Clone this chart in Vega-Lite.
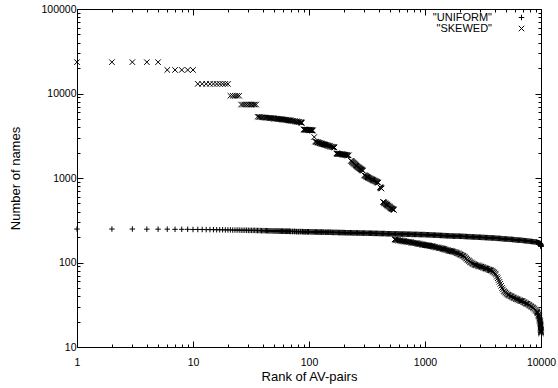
{
  "$schema": "https://vega.github.io/schema/vega-lite/v6.json",
  "width": 464,
  "height": 338,
  "autosize": "none",
  "padding": {"left": 77, "top": 9, "right": 17, "bottom": 41},
  "background": "white",
  "config": {
    "font": "Liberation Sans",
    "view": {"stroke": "black", "strokeWidth": 1},
    "axis": {"grid": false, "domain": false, "tickColor": "black", "labelColor": "black", "titleColor": "black", "labelFontSize": 10.5, "titleFontSize": 13, "titleFontWeight": "normal", "labelOverlap": false, "labelBound": false, "labelFlush": false}
  },
  "data": {"values": [
      {"s":"UNIFORM","r":1,"n":249},{"s":"UNIFORM","r":2,"n":249},{"s":"UNIFORM","r":3,"n":249},{"s":"UNIFORM","r":4,"n":248},{"s":"UNIFORM","r":5,"n":248},{"s":"UNIFORM","r":6,"n":248},{"s":"UNIFORM","r":7,"n":247},{"s":"UNIFORM","r":8,"n":247},{"s":"UNIFORM","r":9,"n":247},{"s":"UNIFORM","r":10,"n":246},
      {"s":"UNIFORM","r":11,"n":246},{"s":"UNIFORM","r":12,"n":246},{"s":"UNIFORM","r":13,"n":245},{"s":"UNIFORM","r":14,"n":245},{"s":"UNIFORM","r":15,"n":245},{"s":"UNIFORM","r":16,"n":244},{"s":"UNIFORM","r":17,"n":244},{"s":"UNIFORM","r":18,"n":244},{"s":"UNIFORM","r":19,"n":243},{"s":"UNIFORM","r":20,"n":243},
      {"s":"UNIFORM","r":21,"n":243},{"s":"UNIFORM","r":22,"n":242},{"s":"UNIFORM","r":23,"n":242},{"s":"UNIFORM","r":24,"n":242},{"s":"UNIFORM","r":25,"n":242},{"s":"UNIFORM","r":26,"n":241},{"s":"UNIFORM","r":27,"n":241},{"s":"UNIFORM","r":28,"n":241},{"s":"UNIFORM","r":29,"n":241},{"s":"UNIFORM","r":30,"n":240},
      {"s":"UNIFORM","r":31,"n":240},{"s":"UNIFORM","r":32,"n":240},{"s":"UNIFORM","r":33,"n":240},{"s":"UNIFORM","r":34,"n":240},{"s":"UNIFORM","r":35,"n":239},{"s":"UNIFORM","r":36,"n":239},{"s":"UNIFORM","r":37,"n":239},{"s":"UNIFORM","r":38,"n":239},{"s":"UNIFORM","r":39,"n":238},{"s":"UNIFORM","r":40,"n":238},
      {"s":"UNIFORM","r":41,"n":238},{"s":"UNIFORM","r":42,"n":238},{"s":"UNIFORM","r":43,"n":238},{"s":"UNIFORM","r":44,"n":237},{"s":"UNIFORM","r":45,"n":237},{"s":"UNIFORM","r":46,"n":237},{"s":"UNIFORM","r":47,"n":237},{"s":"UNIFORM","r":48,"n":237},{"s":"UNIFORM","r":49,"n":236},{"s":"UNIFORM","r":50,"n":236},
      {"s":"UNIFORM","r":51,"n":236},{"s":"UNIFORM","r":52,"n":236},{"s":"UNIFORM","r":53,"n":236},{"s":"UNIFORM","r":54,"n":236},{"s":"UNIFORM","r":55,"n":235},{"s":"UNIFORM","r":56,"n":235},{"s":"UNIFORM","r":57,"n":235},{"s":"UNIFORM","r":58,"n":235},{"s":"UNIFORM","r":59,"n":235},{"s":"UNIFORM","r":60,"n":235},
      {"s":"UNIFORM","r":61,"n":234},{"s":"UNIFORM","r":62,"n":234},{"s":"UNIFORM","r":63,"n":234},{"s":"UNIFORM","r":64,"n":234},{"s":"UNIFORM","r":65,"n":234},{"s":"UNIFORM","r":66,"n":234},{"s":"UNIFORM","r":67,"n":234},{"s":"UNIFORM","r":68,"n":234},{"s":"UNIFORM","r":69,"n":233},{"s":"UNIFORM","r":70,"n":233},
      {"s":"UNIFORM","r":72,"n":233},{"s":"UNIFORM","r":73,"n":233},{"s":"UNIFORM","r":75,"n":233},{"s":"UNIFORM","r":76,"n":233},{"s":"UNIFORM","r":78,"n":232},{"s":"UNIFORM","r":79,"n":232},{"s":"UNIFORM","r":81,"n":232},{"s":"UNIFORM","r":82,"n":232},{"s":"UNIFORM","r":84,"n":232},{"s":"UNIFORM","r":85,"n":232},
      {"s":"UNIFORM","r":87,"n":232},{"s":"UNIFORM","r":88,"n":232},{"s":"UNIFORM","r":90,"n":231},{"s":"UNIFORM","r":91,"n":231},{"s":"UNIFORM","r":93,"n":231},{"s":"UNIFORM","r":94,"n":231},{"s":"UNIFORM","r":96,"n":231},{"s":"UNIFORM","r":97,"n":231},{"s":"UNIFORM","r":99,"n":231},{"s":"UNIFORM","r":100,"n":231},
      {"s":"UNIFORM","r":102,"n":231},{"s":"UNIFORM","r":104,"n":230},{"s":"UNIFORM","r":106,"n":230},{"s":"UNIFORM","r":108,"n":230},{"s":"UNIFORM","r":110,"n":230},{"s":"UNIFORM","r":112,"n":230},{"s":"UNIFORM","r":114,"n":230},{"s":"UNIFORM","r":116,"n":230},{"s":"UNIFORM","r":118,"n":229},{"s":"UNIFORM","r":120,"n":229},
      {"s":"UNIFORM","r":122,"n":229},{"s":"UNIFORM","r":124,"n":229},{"s":"UNIFORM","r":126,"n":229},{"s":"UNIFORM","r":128,"n":229},{"s":"UNIFORM","r":130,"n":229},{"s":"UNIFORM","r":132,"n":229},{"s":"UNIFORM","r":134,"n":229},{"s":"UNIFORM","r":137,"n":228},{"s":"UNIFORM","r":139,"n":228},{"s":"UNIFORM","r":142,"n":228},
      {"s":"UNIFORM","r":144,"n":228},{"s":"UNIFORM","r":147,"n":228},{"s":"UNIFORM","r":149,"n":228},{"s":"UNIFORM","r":152,"n":228},{"s":"UNIFORM","r":154,"n":228},{"s":"UNIFORM","r":157,"n":227},{"s":"UNIFORM","r":160,"n":227},{"s":"UNIFORM","r":162,"n":227},{"s":"UNIFORM","r":165,"n":227},{"s":"UNIFORM","r":168,"n":227},
      {"s":"UNIFORM","r":171,"n":227},{"s":"UNIFORM","r":174,"n":227},{"s":"UNIFORM","r":177,"n":227},{"s":"UNIFORM","r":180,"n":226},{"s":"UNIFORM","r":183,"n":226},{"s":"UNIFORM","r":186,"n":226},{"s":"UNIFORM","r":189,"n":226},{"s":"UNIFORM","r":192,"n":226},{"s":"UNIFORM","r":195,"n":226},{"s":"UNIFORM","r":199,"n":226},
      {"s":"UNIFORM","r":202,"n":226},{"s":"UNIFORM","r":206,"n":225},{"s":"UNIFORM","r":209,"n":225},{"s":"UNIFORM","r":213,"n":225},{"s":"UNIFORM","r":216,"n":225},{"s":"UNIFORM","r":220,"n":225},{"s":"UNIFORM","r":224,"n":225},{"s":"UNIFORM","r":228,"n":225},{"s":"UNIFORM","r":232,"n":225},{"s":"UNIFORM","r":236,"n":224},
      {"s":"UNIFORM","r":240,"n":224},{"s":"UNIFORM","r":244,"n":224},{"s":"UNIFORM","r":248,"n":224},{"s":"UNIFORM","r":253,"n":224},{"s":"UNIFORM","r":257,"n":224},{"s":"UNIFORM","r":262,"n":224},{"s":"UNIFORM","r":266,"n":224},{"s":"UNIFORM","r":271,"n":223},{"s":"UNIFORM","r":275,"n":223},{"s":"UNIFORM","r":280,"n":223},
      {"s":"UNIFORM","r":285,"n":223},{"s":"UNIFORM","r":290,"n":223},{"s":"UNIFORM","r":295,"n":223},{"s":"UNIFORM","r":300,"n":223},{"s":"UNIFORM","r":305,"n":223},{"s":"UNIFORM","r":311,"n":222},{"s":"UNIFORM","r":316,"n":222},{"s":"UNIFORM","r":322,"n":222},{"s":"UNIFORM","r":327,"n":222},{"s":"UNIFORM","r":333,"n":222},
      {"s":"UNIFORM","r":339,"n":222},{"s":"UNIFORM","r":345,"n":222},{"s":"UNIFORM","r":351,"n":222},{"s":"UNIFORM","r":357,"n":221},{"s":"UNIFORM","r":363,"n":221},{"s":"UNIFORM","r":369,"n":221},{"s":"UNIFORM","r":375,"n":221},{"s":"UNIFORM","r":382,"n":221},{"s":"UNIFORM","r":388,"n":221},{"s":"UNIFORM","r":395,"n":221},
      {"s":"UNIFORM","r":402,"n":220},{"s":"UNIFORM","r":409,"n":220},{"s":"UNIFORM","r":416,"n":220},{"s":"UNIFORM","r":423,"n":220},{"s":"UNIFORM","r":430,"n":220},{"s":"UNIFORM","r":438,"n":220},{"s":"UNIFORM","r":445,"n":220},{"s":"UNIFORM","r":453,"n":220},{"s":"UNIFORM","r":461,"n":219},{"s":"UNIFORM","r":469,"n":219},
      {"s":"UNIFORM","r":477,"n":219},{"s":"UNIFORM","r":485,"n":219},{"s":"UNIFORM","r":493,"n":219},{"s":"UNIFORM","r":502,"n":219},{"s":"UNIFORM","r":511,"n":219},{"s":"UNIFORM","r":520,"n":219},{"s":"UNIFORM","r":529,"n":218},{"s":"UNIFORM","r":538,"n":218},{"s":"UNIFORM","r":547,"n":218},{"s":"UNIFORM","r":557,"n":218},
      {"s":"UNIFORM","r":566,"n":218},{"s":"UNIFORM","r":576,"n":218},{"s":"UNIFORM","r":586,"n":218},{"s":"UNIFORM","r":596,"n":218},{"s":"UNIFORM","r":606,"n":217},{"s":"UNIFORM","r":617,"n":217},{"s":"UNIFORM","r":628,"n":217},{"s":"UNIFORM","r":639,"n":217},{"s":"UNIFORM","r":650,"n":217},{"s":"UNIFORM","r":661,"n":217},
      {"s":"UNIFORM","r":672,"n":217},{"s":"UNIFORM","r":684,"n":217},{"s":"UNIFORM","r":696,"n":216},{"s":"UNIFORM","r":708,"n":216},{"s":"UNIFORM","r":720,"n":216},{"s":"UNIFORM","r":733,"n":216},{"s":"UNIFORM","r":746,"n":216},{"s":"UNIFORM","r":759,"n":216},{"s":"UNIFORM","r":772,"n":215},{"s":"UNIFORM","r":785,"n":215},
      {"s":"UNIFORM","r":799,"n":215},{"s":"UNIFORM","r":813,"n":215},{"s":"UNIFORM","r":827,"n":215},{"s":"UNIFORM","r":841,"n":215},{"s":"UNIFORM","r":855,"n":215},{"s":"UNIFORM","r":870,"n":215},{"s":"UNIFORM","r":885,"n":214},{"s":"UNIFORM","r":901,"n":214},{"s":"UNIFORM","r":916,"n":214},{"s":"UNIFORM","r":932,"n":214},
      {"s":"UNIFORM","r":948,"n":214},{"s":"UNIFORM","r":965,"n":214},{"s":"UNIFORM","r":982,"n":214},{"s":"UNIFORM","r":999,"n":214},{"s":"UNIFORM","r":1016,"n":213},{"s":"UNIFORM","r":1034,"n":213},{"s":"UNIFORM","r":1052,"n":213},{"s":"UNIFORM","r":1070,"n":213},{"s":"UNIFORM","r":1088,"n":212},{"s":"UNIFORM","r":1107,"n":212},
      {"s":"UNIFORM","r":1126,"n":212},{"s":"UNIFORM","r":1146,"n":212},{"s":"UNIFORM","r":1166,"n":211},{"s":"UNIFORM","r":1186,"n":211},{"s":"UNIFORM","r":1207,"n":211},{"s":"UNIFORM","r":1228,"n":211},{"s":"UNIFORM","r":1249,"n":210},{"s":"UNIFORM","r":1271,"n":210},{"s":"UNIFORM","r":1293,"n":210},{"s":"UNIFORM","r":1315,"n":210},
      {"s":"UNIFORM","r":1338,"n":209},{"s":"UNIFORM","r":1361,"n":209},{"s":"UNIFORM","r":1385,"n":209},{"s":"UNIFORM","r":1409,"n":209},{"s":"UNIFORM","r":1433,"n":208},{"s":"UNIFORM","r":1458,"n":208},{"s":"UNIFORM","r":1483,"n":208},{"s":"UNIFORM","r":1509,"n":208},{"s":"UNIFORM","r":1535,"n":207},{"s":"UNIFORM","r":1562,"n":207},
      {"s":"UNIFORM","r":1589,"n":207},{"s":"UNIFORM","r":1617,"n":207},{"s":"UNIFORM","r":1645,"n":206},{"s":"UNIFORM","r":1673,"n":206},{"s":"UNIFORM","r":1702,"n":206},{"s":"UNIFORM","r":1732,"n":206},{"s":"UNIFORM","r":1762,"n":205},{"s":"UNIFORM","r":1793,"n":205},{"s":"UNIFORM","r":1824,"n":205},{"s":"UNIFORM","r":1855,"n":205},
      {"s":"UNIFORM","r":1887,"n":205},{"s":"UNIFORM","r":1920,"n":205},{"s":"UNIFORM","r":1953,"n":205},{"s":"UNIFORM","r":1987,"n":205},{"s":"UNIFORM","r":2022,"n":204},{"s":"UNIFORM","r":2057,"n":204},{"s":"UNIFORM","r":2093,"n":204},{"s":"UNIFORM","r":2129,"n":204},{"s":"UNIFORM","r":2166,"n":203},{"s":"UNIFORM","r":2203,"n":203},
      {"s":"UNIFORM","r":2241,"n":203},{"s":"UNIFORM","r":2280,"n":203},{"s":"UNIFORM","r":2320,"n":202},{"s":"UNIFORM","r":2360,"n":202},{"s":"UNIFORM","r":2401,"n":202},{"s":"UNIFORM","r":2443,"n":202},{"s":"UNIFORM","r":2485,"n":201},{"s":"UNIFORM","r":2528,"n":201},{"s":"UNIFORM","r":2572,"n":201},{"s":"UNIFORM","r":2617,"n":201},
      {"s":"UNIFORM","r":2662,"n":200},{"s":"UNIFORM","r":2708,"n":200},{"s":"UNIFORM","r":2755,"n":200},{"s":"UNIFORM","r":2803,"n":200},{"s":"UNIFORM","r":2852,"n":199},{"s":"UNIFORM","r":2901,"n":199},{"s":"UNIFORM","r":2952,"n":199},{"s":"UNIFORM","r":3003,"n":199},{"s":"UNIFORM","r":3055,"n":198},{"s":"UNIFORM","r":3108,"n":198},
      {"s":"UNIFORM","r":3162,"n":198},{"s":"UNIFORM","r":3217,"n":198},{"s":"UNIFORM","r":3273,"n":197},{"s":"UNIFORM","r":3329,"n":197},{"s":"UNIFORM","r":3387,"n":197},{"s":"UNIFORM","r":3446,"n":197},{"s":"UNIFORM","r":3506,"n":196},{"s":"UNIFORM","r":3566,"n":196},{"s":"UNIFORM","r":3628,"n":196},{"s":"UNIFORM","r":3691,"n":196},
      {"s":"UNIFORM","r":3755,"n":195},{"s":"UNIFORM","r":3820,"n":195},{"s":"UNIFORM","r":3887,"n":195},{"s":"UNIFORM","r":3954,"n":195},{"s":"UNIFORM","r":4023,"n":194},{"s":"UNIFORM","r":4092,"n":194},{"s":"UNIFORM","r":4164,"n":193},{"s":"UNIFORM","r":4236,"n":193},{"s":"UNIFORM","r":4310,"n":193},{"s":"UNIFORM","r":4384,"n":193},
      {"s":"UNIFORM","r":4460,"n":192},{"s":"UNIFORM","r":4537,"n":192},{"s":"UNIFORM","r":4616,"n":191},{"s":"UNIFORM","r":4696,"n":191},{"s":"UNIFORM","r":4778,"n":190},{"s":"UNIFORM","r":4860,"n":190},{"s":"UNIFORM","r":4945,"n":190},{"s":"UNIFORM","r":5030,"n":190},{"s":"UNIFORM","r":5118,"n":189},{"s":"UNIFORM","r":5206,"n":189},
      {"s":"UNIFORM","r":5297,"n":188},{"s":"UNIFORM","r":5389,"n":188},{"s":"UNIFORM","r":5483,"n":188},{"s":"UNIFORM","r":5577,"n":188},{"s":"UNIFORM","r":5675,"n":187},{"s":"UNIFORM","r":5773,"n":187},{"s":"UNIFORM","r":5874,"n":186},{"s":"UNIFORM","r":5975,"n":186},{"s":"UNIFORM","r":6079,"n":185},{"s":"UNIFORM","r":6184,"n":185},
      {"s":"UNIFORM","r":6292,"n":184},{"s":"UNIFORM","r":6400,"n":184},{"s":"UNIFORM","r":6512,"n":184},{"s":"UNIFORM","r":6624,"n":184},{"s":"UNIFORM","r":6740,"n":183},{"s":"UNIFORM","r":6856,"n":183},{"s":"UNIFORM","r":6976,"n":182},{"s":"UNIFORM","r":7096,"n":182},{"s":"UNIFORM","r":7220,"n":181},{"s":"UNIFORM","r":7345,"n":181},
      {"s":"UNIFORM","r":7473,"n":180},{"s":"UNIFORM","r":7602,"n":180},{"s":"UNIFORM","r":7735,"n":179},{"s":"UNIFORM","r":7868,"n":179},{"s":"UNIFORM","r":8005,"n":178},{"s":"UNIFORM","r":8143,"n":178},{"s":"UNIFORM","r":8285,"n":177},{"s":"UNIFORM","r":8428,"n":177},{"s":"UNIFORM","r":8575,"n":176},{"s":"UNIFORM","r":8723,"n":176},
      {"s":"UNIFORM","r":8876,"n":175},{"s":"UNIFORM","r":9029,"n":175},{"s":"UNIFORM","r":9140,"n":174},{"s":"UNIFORM","r":9250,"n":173},{"s":"UNIFORM","r":9325,"n":172},{"s":"UNIFORM","r":9400,"n":172},{"s":"UNIFORM","r":9475,"n":171},{"s":"UNIFORM","r":9550,"n":171},{"s":"UNIFORM","r":9650,"n":170},{"s":"UNIFORM","r":9750,"n":169},
      {"s":"UNIFORM","r":9820,"n":168},{"s":"UNIFORM","r":9880,"n":166},{"s":"UNIFORM","r":9920,"n":164},{"s":"UNIFORM","r":9950,"n":162},{"s":"UNIFORM","r":9970,"n":160},{"s":"UNIFORM","r":9985,"n":158},{"s":"UNIFORM","r":9995,"n":156},{"s":"UNIFORM","r":10000,"n":155},
      {"s":"SKEWED","r":1,"n":23500},{"s":"SKEWED","r":2,"n":23500},{"s":"SKEWED","r":3,"n":23500},{"s":"SKEWED","r":4,"n":23500},{"s":"SKEWED","r":5,"n":23500},
      {"s":"SKEWED","r":6,"n":19000},{"s":"SKEWED","r":7,"n":19000},{"s":"SKEWED","r":8,"n":19000},{"s":"SKEWED","r":9,"n":19000},{"s":"SKEWED","r":10,"n":19000},
      {"s":"SKEWED","r":11,"n":13000},{"s":"SKEWED","r":12,"n":13000},{"s":"SKEWED","r":13,"n":13000},{"s":"SKEWED","r":14,"n":13000},{"s":"SKEWED","r":15,"n":13000},{"s":"SKEWED","r":16,"n":13000},{"s":"SKEWED","r":17,"n":13000},{"s":"SKEWED","r":18,"n":13000},{"s":"SKEWED","r":19,"n":13000},{"s":"SKEWED","r":20,"n":13000},
      {"s":"SKEWED","r":21,"n":9400},{"s":"SKEWED","r":22,"n":9400},{"s":"SKEWED","r":23,"n":9400},{"s":"SKEWED","r":24,"n":9400},{"s":"SKEWED","r":25,"n":9400},
      {"s":"SKEWED","r":26,"n":7400},{"s":"SKEWED","r":27,"n":7400},{"s":"SKEWED","r":28,"n":7400},{"s":"SKEWED","r":29,"n":7400},{"s":"SKEWED","r":30,"n":7400},{"s":"SKEWED","r":31,"n":7400},{"s":"SKEWED","r":32,"n":7400},{"s":"SKEWED","r":33,"n":7400},{"s":"SKEWED","r":34,"n":7400},{"s":"SKEWED","r":35,"n":7400},
      {"s":"SKEWED","r":36,"n":5300},{"s":"SKEWED","r":37,"n":5280},{"s":"SKEWED","r":38,"n":5260},{"s":"SKEWED","r":39,"n":5240},{"s":"SKEWED","r":40,"n":5220},{"s":"SKEWED","r":41,"n":5205},{"s":"SKEWED","r":42,"n":5190},{"s":"SKEWED","r":43,"n":5175},{"s":"SKEWED","r":44,"n":5160},{"s":"SKEWED","r":45,"n":5145},
      {"s":"SKEWED","r":46,"n":5130},{"s":"SKEWED","r":47,"n":5115},{"s":"SKEWED","r":48,"n":5100},{"s":"SKEWED","r":49,"n":5085},{"s":"SKEWED","r":50,"n":5070},{"s":"SKEWED","r":51,"n":5055},{"s":"SKEWED","r":52,"n":5040},{"s":"SKEWED","r":53,"n":5025},{"s":"SKEWED","r":54,"n":5010},{"s":"SKEWED","r":55,"n":4995},
      {"s":"SKEWED","r":56,"n":4980},{"s":"SKEWED","r":57,"n":4965},{"s":"SKEWED","r":58,"n":4950},{"s":"SKEWED","r":59,"n":4935},{"s":"SKEWED","r":60,"n":4920},{"s":"SKEWED","r":61,"n":4905},{"s":"SKEWED","r":62,"n":4890},{"s":"SKEWED","r":63,"n":4875},{"s":"SKEWED","r":64,"n":4860},{"s":"SKEWED","r":65,"n":4845},
      {"s":"SKEWED","r":66,"n":4830},{"s":"SKEWED","r":67,"n":4815},{"s":"SKEWED","r":68,"n":4800},{"s":"SKEWED","r":69,"n":4785},{"s":"SKEWED","r":70,"n":4770},{"s":"SKEWED","r":72,"n":4745},{"s":"SKEWED","r":73,"n":4730},{"s":"SKEWED","r":75,"n":4705},{"s":"SKEWED","r":76,"n":4690},{"s":"SKEWED","r":78,"n":4665},
      {"s":"SKEWED","r":79,"n":4650},{"s":"SKEWED","r":81,"n":4620},{"s":"SKEWED","r":82,"n":4600},{"s":"SKEWED","r":84,"n":4570},{"s":"SKEWED","r":85,"n":4550},{"s":"SKEWED","r":86,"n":4525},{"s":"SKEWED","r":87,"n":4500},
      {"s":"SKEWED","r":90,"n":3750},{"s":"SKEWED","r":91,"n":3745},{"s":"SKEWED","r":92,"n":3740},{"s":"SKEWED","r":93,"n":3735},{"s":"SKEWED","r":94,"n":3730},{"s":"SKEWED","r":95,"n":3725},{"s":"SKEWED","r":96,"n":3720},{"s":"SKEWED","r":97,"n":3715},{"s":"SKEWED","r":98,"n":3710},{"s":"SKEWED","r":99,"n":3705},
      {"s":"SKEWED","r":100,"n":3700},{"s":"SKEWED","r":101,"n":3695},{"s":"SKEWED","r":102,"n":3690},{"s":"SKEWED","r":103,"n":3685},{"s":"SKEWED","r":104,"n":3680},{"s":"SKEWED","r":105,"n":3670},{"s":"SKEWED","r":106,"n":3660},{"s":"SKEWED","r":107,"n":3655},{"s":"SKEWED","r":108,"n":3650},
      {"s":"SKEWED","r":111,"n":3050},
      {"s":"SKEWED","r":113,"n":2700},{"s":"SKEWED","r":115,"n":2680},{"s":"SKEWED","r":116,"n":2670},{"s":"SKEWED","r":118,"n":2650},{"s":"SKEWED","r":119,"n":2640},{"s":"SKEWED","r":121,"n":2620},{"s":"SKEWED","r":122,"n":2610},{"s":"SKEWED","r":124,"n":2590},{"s":"SKEWED","r":125,"n":2580},{"s":"SKEWED","r":127,"n":2560},
      {"s":"SKEWED","r":128,"n":2550},{"s":"SKEWED","r":130,"n":2535},{"s":"SKEWED","r":132,"n":2520},{"s":"SKEWED","r":134,"n":2505},{"s":"SKEWED","r":136,"n":2490},{"s":"SKEWED","r":138,"n":2475},{"s":"SKEWED","r":140,"n":2460},{"s":"SKEWED","r":142,"n":2445},{"s":"SKEWED","r":144,"n":2430},{"s":"SKEWED","r":146,"n":2415},
      {"s":"SKEWED","r":148,"n":2400},{"s":"SKEWED","r":150,"n":2385},{"s":"SKEWED","r":152,"n":2370},{"s":"SKEWED","r":155,"n":2355},{"s":"SKEWED","r":157,"n":2340},{"s":"SKEWED","r":160,"n":2330},{"s":"SKEWED","r":162,"n":2320},{"s":"SKEWED","r":164,"n":2310},{"s":"SKEWED","r":166,"n":2300},
      {"s":"SKEWED","r":172,"n":1950},{"s":"SKEWED","r":174,"n":1945},{"s":"SKEWED","r":176,"n":1940},{"s":"SKEWED","r":178,"n":1935},{"s":"SKEWED","r":180,"n":1930},{"s":"SKEWED","r":182,"n":1925},{"s":"SKEWED","r":185,"n":1920},{"s":"SKEWED","r":187,"n":1915},{"s":"SKEWED","r":190,"n":1910},{"s":"SKEWED","r":193,"n":1905},
      {"s":"SKEWED","r":196,"n":1900},{"s":"SKEWED","r":199,"n":1895},{"s":"SKEWED","r":202,"n":1890},{"s":"SKEWED","r":205,"n":1880},{"s":"SKEWED","r":208,"n":1870},{"s":"SKEWED","r":211,"n":1865},{"s":"SKEWED","r":214,"n":1860},{"s":"SKEWED","r":217,"n":1855},{"s":"SKEWED","r":220,"n":1850},
      {"s":"SKEWED","r":230,"n":1600},{"s":"SKEWED","r":232,"n":1580},{"s":"SKEWED","r":235,"n":1560},{"s":"SKEWED","r":237,"n":1540},{"s":"SKEWED","r":240,"n":1520},{"s":"SKEWED","r":242,"n":1500},{"s":"SKEWED","r":245,"n":1480},{"s":"SKEWED","r":247,"n":1460},{"s":"SKEWED","r":250,"n":1440},{"s":"SKEWED","r":253,"n":1420},
      {"s":"SKEWED","r":256,"n":1400},{"s":"SKEWED","r":259,"n":1380},{"s":"SKEWED","r":262,"n":1360},{"s":"SKEWED","r":265,"n":1345},{"s":"SKEWED","r":268,"n":1330},{"s":"SKEWED","r":271,"n":1315},{"s":"SKEWED","r":274,"n":1300},{"s":"SKEWED","r":277,"n":1285},{"s":"SKEWED","r":280,"n":1270},{"s":"SKEWED","r":283,"n":1258},
      {"s":"SKEWED","r":286,"n":1245},{"s":"SKEWED","r":289,"n":1232},{"s":"SKEWED","r":292,"n":1220},
      {"s":"SKEWED","r":300,"n":1080},{"s":"SKEWED","r":303,"n":1070},{"s":"SKEWED","r":307,"n":1060},{"s":"SKEWED","r":310,"n":1050},{"s":"SKEWED","r":314,"n":1040},{"s":"SKEWED","r":317,"n":1030},{"s":"SKEWED","r":321,"n":1020},{"s":"SKEWED","r":324,"n":1010},{"s":"SKEWED","r":328,"n":1000},{"s":"SKEWED","r":332,"n":992},
      {"s":"SKEWED","r":336,"n":985},{"s":"SKEWED","r":340,"n":977},{"s":"SKEWED","r":344,"n":970},{"s":"SKEWED","r":348,"n":962},{"s":"SKEWED","r":352,"n":955},{"s":"SKEWED","r":356,"n":947},{"s":"SKEWED","r":360,"n":940},{"s":"SKEWED","r":364,"n":932},{"s":"SKEWED","r":369,"n":925},{"s":"SKEWED","r":373,"n":917},
      {"s":"SKEWED","r":378,"n":910},{"s":"SKEWED","r":382,"n":902},{"s":"SKEWED","r":387,"n":895},{"s":"SKEWED","r":391,"n":887},{"s":"SKEWED","r":395,"n":880},
      {"s":"SKEWED","r":410,"n":780},{"s":"SKEWED","r":413,"n":772},{"s":"SKEWED","r":416,"n":765},{"s":"SKEWED","r":419,"n":757},{"s":"SKEWED","r":422,"n":750},
      {"s":"SKEWED","r":435,"n":520},{"s":"SKEWED","r":439,"n":515},{"s":"SKEWED","r":444,"n":510},{"s":"SKEWED","r":448,"n":505},{"s":"SKEWED","r":453,"n":500},{"s":"SKEWED","r":457,"n":495},{"s":"SKEWED","r":462,"n":490},{"s":"SKEWED","r":466,"n":485},{"s":"SKEWED","r":471,"n":480},{"s":"SKEWED","r":475,"n":475},
      {"s":"SKEWED","r":480,"n":470},{"s":"SKEWED","r":485,"n":465},{"s":"SKEWED","r":490,"n":460},{"s":"SKEWED","r":495,"n":455},{"s":"SKEWED","r":500,"n":450},{"s":"SKEWED","r":505,"n":445},{"s":"SKEWED","r":510,"n":440},{"s":"SKEWED","r":515,"n":436},{"s":"SKEWED","r":520,"n":432},{"s":"SKEWED","r":525,"n":429},
      {"s":"SKEWED","r":530,"n":426},{"s":"SKEWED","r":535,"n":423},{"s":"SKEWED","r":540,"n":420},
      {"s":"SKEWED","r":548,"n":188},{"s":"SKEWED","r":552,"n":187},{"s":"SKEWED","r":557,"n":186},{"s":"SKEWED","r":566,"n":185},{"s":"SKEWED","r":576,"n":184},{"s":"SKEWED","r":586,"n":183},{"s":"SKEWED","r":596,"n":182},{"s":"SKEWED","r":606,"n":182},{"s":"SKEWED","r":617,"n":181},{"s":"SKEWED","r":628,"n":180},
      {"s":"SKEWED","r":639,"n":180},{"s":"SKEWED","r":650,"n":179},{"s":"SKEWED","r":661,"n":179},{"s":"SKEWED","r":672,"n":178},{"s":"SKEWED","r":684,"n":177},{"s":"SKEWED","r":696,"n":176},{"s":"SKEWED","r":708,"n":176},{"s":"SKEWED","r":720,"n":175},{"s":"SKEWED","r":733,"n":175},{"s":"SKEWED","r":746,"n":174},
      {"s":"SKEWED","r":759,"n":173},{"s":"SKEWED","r":772,"n":172},{"s":"SKEWED","r":785,"n":171},{"s":"SKEWED","r":799,"n":171},{"s":"SKEWED","r":813,"n":170},{"s":"SKEWED","r":827,"n":169},{"s":"SKEWED","r":841,"n":169},{"s":"SKEWED","r":855,"n":168},{"s":"SKEWED","r":870,"n":167},{"s":"SKEWED","r":885,"n":166},
      {"s":"SKEWED","r":901,"n":166},{"s":"SKEWED","r":916,"n":165},{"s":"SKEWED","r":932,"n":164},{"s":"SKEWED","r":948,"n":163},{"s":"SKEWED","r":965,"n":163},{"s":"SKEWED","r":982,"n":162},{"s":"SKEWED","r":999,"n":161},{"s":"SKEWED","r":1016,"n":160},{"s":"SKEWED","r":1034,"n":160},{"s":"SKEWED","r":1052,"n":159},
      {"s":"SKEWED","r":1070,"n":159},{"s":"SKEWED","r":1088,"n":158},{"s":"SKEWED","r":1107,"n":157},{"s":"SKEWED","r":1126,"n":156},{"s":"SKEWED","r":1146,"n":156},{"s":"SKEWED","r":1166,"n":155},{"s":"SKEWED","r":1186,"n":154},{"s":"SKEWED","r":1207,"n":153},{"s":"SKEWED","r":1228,"n":152},{"s":"SKEWED","r":1249,"n":151},
      {"s":"SKEWED","r":1271,"n":151},{"s":"SKEWED","r":1293,"n":150},{"s":"SKEWED","r":1315,"n":149},{"s":"SKEWED","r":1338,"n":148},{"s":"SKEWED","r":1361,"n":148},{"s":"SKEWED","r":1385,"n":147},{"s":"SKEWED","r":1409,"n":146},{"s":"SKEWED","r":1433,"n":145},{"s":"SKEWED","r":1458,"n":144},{"s":"SKEWED","r":1483,"n":143},
      {"s":"SKEWED","r":1509,"n":142},{"s":"SKEWED","r":1535,"n":141},{"s":"SKEWED","r":1562,"n":140},{"s":"SKEWED","r":1589,"n":139},{"s":"SKEWED","r":1617,"n":138},{"s":"SKEWED","r":1645,"n":137},{"s":"SKEWED","r":1673,"n":137},{"s":"SKEWED","r":1702,"n":136},{"s":"SKEWED","r":1732,"n":135},{"s":"SKEWED","r":1762,"n":134},
      {"s":"SKEWED","r":1793,"n":133},{"s":"SKEWED","r":1824,"n":132},{"s":"SKEWED","r":1855,"n":131},{"s":"SKEWED","r":1887,"n":129},{"s":"SKEWED","r":1920,"n":128},{"s":"SKEWED","r":1953,"n":127},{"s":"SKEWED","r":1987,"n":126},{"s":"SKEWED","r":2022,"n":124},{"s":"SKEWED","r":2057,"n":123},{"s":"SKEWED","r":2093,"n":121},
      {"s":"SKEWED","r":2129,"n":120},{"s":"SKEWED","r":2166,"n":118},{"s":"SKEWED","r":2203,"n":116},{"s":"SKEWED","r":2241,"n":113},{"s":"SKEWED","r":2280,"n":111},{"s":"SKEWED","r":2320,"n":108},{"s":"SKEWED","r":2360,"n":106},{"s":"SKEWED","r":2401,"n":104},{"s":"SKEWED","r":2443,"n":102},{"s":"SKEWED","r":2485,"n":100},
      {"s":"SKEWED","r":2528,"n":99},{"s":"SKEWED","r":2572,"n":97},{"s":"SKEWED","r":2617,"n":96},{"s":"SKEWED","r":2662,"n":95},{"s":"SKEWED","r":2708,"n":94},{"s":"SKEWED","r":2755,"n":93},{"s":"SKEWED","r":2803,"n":92},{"s":"SKEWED","r":2852,"n":91.5},{"s":"SKEWED","r":2901,"n":91},{"s":"SKEWED","r":2952,"n":90.5},
      {"s":"SKEWED","r":3003,"n":90},{"s":"SKEWED","r":3055,"n":89},{"s":"SKEWED","r":3108,"n":88},{"s":"SKEWED","r":3162,"n":87.5},{"s":"SKEWED","r":3217,"n":87},{"s":"SKEWED","r":3273,"n":86},{"s":"SKEWED","r":3329,"n":85},{"s":"SKEWED","r":3387,"n":84.5},{"s":"SKEWED","r":3446,"n":84},{"s":"SKEWED","r":3506,"n":83},
      {"s":"SKEWED","r":3566,"n":82},{"s":"SKEWED","r":3628,"n":81.5},{"s":"SKEWED","r":3691,"n":81},{"s":"SKEWED","r":3755,"n":80},{"s":"SKEWED","r":3820,"n":79},{"s":"SKEWED","r":3887,"n":77.5},{"s":"SKEWED","r":3954,"n":76},{"s":"SKEWED","r":4023,"n":74},{"s":"SKEWED","r":4092,"n":72},{"s":"SKEWED","r":4164,"n":68},
      {"s":"SKEWED","r":4236,"n":65},{"s":"SKEWED","r":4310,"n":62},{"s":"SKEWED","r":4384,"n":59},{"s":"SKEWED","r":4460,"n":56},{"s":"SKEWED","r":4537,"n":53},{"s":"SKEWED","r":4616,"n":50},{"s":"SKEWED","r":4696,"n":48},{"s":"SKEWED","r":4778,"n":46},{"s":"SKEWED","r":4860,"n":45},{"s":"SKEWED","r":4945,"n":44},
      {"s":"SKEWED","r":5030,"n":43},{"s":"SKEWED","r":5118,"n":42},{"s":"SKEWED","r":5206,"n":41.5},{"s":"SKEWED","r":5297,"n":41},{"s":"SKEWED","r":5389,"n":40.5},{"s":"SKEWED","r":5483,"n":40},{"s":"SKEWED","r":5577,"n":39.5},{"s":"SKEWED","r":5675,"n":39},{"s":"SKEWED","r":5773,"n":38.5},{"s":"SKEWED","r":5874,"n":38},
      {"s":"SKEWED","r":5975,"n":37.5},{"s":"SKEWED","r":6079,"n":37.2},{"s":"SKEWED","r":6184,"n":37},{"s":"SKEWED","r":6292,"n":36.5},{"s":"SKEWED","r":6400,"n":36},{"s":"SKEWED","r":6512,"n":35.7},{"s":"SKEWED","r":6624,"n":35.5},{"s":"SKEWED","r":6740,"n":35.2},{"s":"SKEWED","r":6856,"n":35},{"s":"SKEWED","r":6976,"n":34.5},
      {"s":"SKEWED","r":7096,"n":34},{"s":"SKEWED","r":7220,"n":33.5},{"s":"SKEWED","r":7345,"n":33},{"s":"SKEWED","r":7473,"n":32.7},{"s":"SKEWED","r":7602,"n":32.5},{"s":"SKEWED","r":7735,"n":32},{"s":"SKEWED","r":7868,"n":31.5},{"s":"SKEWED","r":8005,"n":31},{"s":"SKEWED","r":8143,"n":30.5},{"s":"SKEWED","r":8285,"n":30},
      {"s":"SKEWED","r":8428,"n":29.5},{"s":"SKEWED","r":8575,"n":29},{"s":"SKEWED","r":8723,"n":28.5},{"s":"SKEWED","r":8876,"n":27.7},{"s":"SKEWED","r":9029,"n":27},{"s":"SKEWED","r":9140,"n":26.5},{"s":"SKEWED","r":9250,"n":26},{"s":"SKEWED","r":9325,"n":25.5},{"s":"SKEWED","r":9400,"n":25},{"s":"SKEWED","r":9475,"n":24.2},
      {"s":"SKEWED","r":9550,"n":23.5},{"s":"SKEWED","r":9600,"n":23},{"s":"SKEWED","r":9650,"n":22.5},{"s":"SKEWED","r":9700,"n":21.7},{"s":"SKEWED","r":9750,"n":21},{"s":"SKEWED","r":9785,"n":20.5},{"s":"SKEWED","r":9820,"n":20},{"s":"SKEWED","r":9850,"n":19.5},{"s":"SKEWED","r":9880,"n":19},{"s":"SKEWED","r":9900,"n":18.5},
      {"s":"SKEWED","r":9920,"n":18},{"s":"SKEWED","r":9935,"n":17.5},{"s":"SKEWED","r":9950,"n":17},{"s":"SKEWED","r":9960,"n":16.5},{"s":"SKEWED","r":9970,"n":16},{"s":"SKEWED","r":9978,"n":15.8},{"s":"SKEWED","r":9985,"n":15.5},{"s":"SKEWED","r":9990,"n":15.2},{"s":"SKEWED","r":9995,"n":15},{"s":"SKEWED","r":10000,"n":14.5}
  ]},
  "layer": [
    {
      "mark": {"type": "point", "filled": false, "stroke": "black", "strokeWidth": 1, "size": 30, "opacity": 1},
      "encoding": {
        "x": {"field": "r", "type": "quantitative", "scale": {"type": "log", "domain": [1, 10000], "nice": false},
          "axis": {"orient": "bottom", "title": "Rank of AV-pairs", "format": "d",
            "values": [1,2,3,4,5,6,7,8,9,10,20,30,40,50,60,70,80,90,100,200,300,400,500,600,700,800,900,1000,2000,3000,4000,5000,6000,7000,8000,9000,10000],
            "labelExpr": "indexof([1,10,100,1000,10000], datum.value) >= 0 ? datum.label : ''",
            "tickSize": {"condition": {"test": "indexof([1,10,100,1000,10000], datum.value) >= 0", "value": -6}, "value": -3},
            "labelPadding": 16, "titlePadding": 0}},
        "y": {"field": "n", "type": "quantitative", "scale": {"type": "log", "domain": [10, 100000], "nice": false},
          "axis": {"orient": "left", "title": "Number of names", "format": "d",
            "values": [10,20,30,40,50,60,70,80,90,100,200,300,400,500,600,700,800,900,1000,2000,3000,4000,5000,6000,7000,8000,9000,10000,20000,30000,40000,50000,60000,70000,80000,90000,100000],
            "labelExpr": "indexof([10,100,1000,10000,100000], datum.value) >= 0 ? datum.label : ''",
            "tickSize": {"condition": {"test": "indexof([10,100,1000,10000,100000], datum.value) >= 0", "value": -6}, "value": -3},
            "labelPadding": 7, "titlePadding": 18}},
        "shape": {"field": "s", "type": "nominal",
          "scale": {"domain": ["UNIFORM", "SKEWED"], "range": ["M-1,0L1,0M0,-1L0,1", "M-1,-1L1,1M-1,1L1,-1"]},
          "legend": {"title": null, "orient": "none", "legendX": 439, "legendY": 3, "labelAlign": "right", "labelOffset": -35,
            "labelFontSize": 11, "labelColor": "black", "symbolStrokeColor": "black", "symbolFillColor": "transparent", "symbolStrokeWidth": 1, "symbolSize": 30,
            "rowPadding": -4, "padding": 0, "labelExpr": "'\"' + datum.label + '\"'"}}
      }
    },
    {
      "mark": {"type": "point", "opacity": 0},
      "encoding": {
        "x": {"field": "r", "type": "quantitative", "scale": {"type": "log", "domain": [1, 10000], "nice": false},
          "axis": {"orient": "top", "title": null, "labels": false,
            "values": [1,2,3,4,5,6,7,8,9,10,20,30,40,50,60,70,80,90,100,200,300,400,500,600,700,800,900,1000,2000,3000,4000,5000,6000,7000,8000,9000,10000],
            "tickSize": {"condition": {"test": "indexof([1,10,100,1000,10000], datum.value) >= 0", "value": -6}, "value": -3}}},
        "y": {"field": "n", "type": "quantitative", "scale": {"type": "log", "domain": [10, 100000], "nice": false},
          "axis": {"orient": "right", "title": null, "labels": false,
            "values": [10,20,30,40,50,60,70,80,90,100,200,300,400,500,600,700,800,900,1000,2000,3000,4000,5000,6000,7000,8000,9000,10000,20000,30000,40000,50000,60000,70000,80000,90000,100000],
            "tickSize": {"condition": {"test": "indexof([10,100,1000,10000,100000], datum.value) >= 0", "value": -6}, "value": -3}}}
      }
    }
  ],
  "resolve": {"axis": {"x": "independent", "y": "independent"}}
}
